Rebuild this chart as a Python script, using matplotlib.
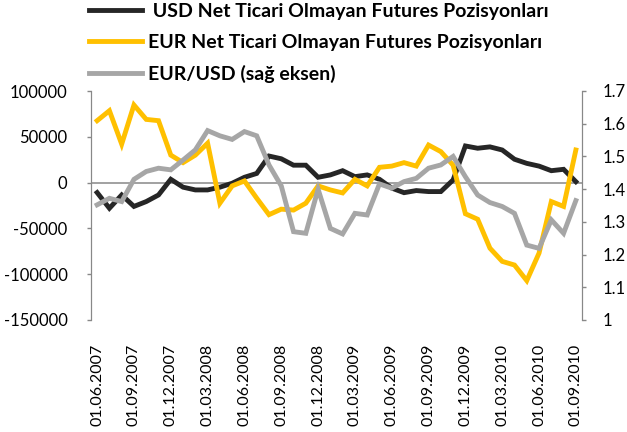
import matplotlib
matplotlib.use("Agg")
import matplotlib.pyplot as plt

plt.rcParams['font.family'] = ['Lato', 'DejaVu Sans']
plt.rcParams['axes.unicode_minus'] = False

# monthly categories 01.06.2007 .. 01.09.2010
dates = []
y, m = 2007, 6
while (y, m) <= (2010, 9):
    dates.append(f"01.{m:02d}.{y}")
    m += 1
    if m > 12:
        m = 1
        y += 1

usd = [-10900, -28000, -13500, -26000, -20700, -13500, 3600, -5000, -8000, -8000,
       -5000, -700, 5800, 10000, 29000, 26000, 19000, 19000, 5800, 8400,
       13000, 6500, 8400, 3600, -6000, -11000, -8700, -9800, -9800, 2900,
       40000, 37500, 39000, 35600, 25500, 21000, 18000, 13000, 14500, 1000]

eur = [67600, 78500, 42000, 84700, 69000, 67600, 30000, 21800, 30000, 43000,
       -22500, -3600, 1800, -17000, -35000, -29000, -30000, -22500, -3600, -8000,
       -11300, 3600, -3600, 16700, 18000, 21800, 18000, 41000, 33800, 19000,
       -34000, -40000, -71600, -86000, -90000, -107000, -77000, -20700, -26000, 35600]

eurusd = [1.352, 1.372, 1.362, 1.430, 1.454, 1.464, 1.459, 1.489, 1.520, 1.579,
          1.563, 1.552, 1.576, 1.563, 1.474, 1.410, 1.270, 1.265, 1.400, 1.280,
          1.263, 1.326, 1.321, 1.416, 1.403, 1.423, 1.433, 1.464, 1.474, 1.500,
          1.438, 1.382, 1.359, 1.347, 1.326, 1.229, 1.219, 1.306, 1.265, 1.365]

left_ticks = [100000, 50000, 0, -50000, -100000, -150000]
left_labels = ["100000", "50000", "0", "-50000", "-100000", "-150000"]
right_ticks = [1.0, 1.1, 1.2, 1.3, 1.4, 1.5, 1.6, 1.7]
right_labels = ["1", "1.1", "1.2", "1.3", "1.4", "1.5", "1.6", "1.7"]

labels = ["USD Net Ticari Olmayan Futures Pozisyonları",
          "EUR Net Ticari Olmayan Futures Pozisyonları",
          "EUR/USD (sağ eksen)"]

W, H = 627, 432
fig = plt.figure(figsize=(W / 100, H / 100), dpi=100)
ax = fig.add_axes([91 / W, 1 - 320 / H, (582 - 91) / W, (320 - 91) / H])
ax2 = ax.twinx()

x = list(range(len(dates)))
spine_c = '#888888'

ax.axhline(0, color=spine_c, lw=1.1, zorder=1)
l1, = ax.plot(x, usd, color='#262626', lw=3.5, solid_joinstyle='miter', zorder=3)
l2, = ax.plot(x, eur, color='#FFC000', lw=3.5, solid_joinstyle='miter', zorder=4)
l3, = ax2.plot(x, eurusd, color='#A6A6A6', lw=3.5, solid_joinstyle='miter')

ax.set_xlim(-0.5, len(dates) - 0.5)
ax.set_ylim(-150000, 100000)
ax2.set_ylim(1.0, 1.7)

ax.set_yticks(left_ticks)
ax.set_yticklabels(left_labels, fontsize=12)
ax2.set_yticks(right_ticks)
ax2.set_yticklabels(right_labels, fontsize=12)

ax.set_xticks(x[::3])
ax.set_xticklabels(dates[::3], rotation=90, fontsize=11.5)
ax.tick_params(axis='x', length=0, pad=17)
ax.tick_params(axis='y', direction='out', length=3, width=1, color=spine_c, pad=14)
ax2.tick_params(axis='y', direction='out', length=3, width=1, color=spine_c, pad=12)

for a in (ax, ax2):
    a.spines['top'].set_visible(False)
    a.spines['bottom'].set_visible(False)
    a.spines['left'].set_color(spine_c)
    a.spines['right'].set_color(spine_c)
    a.patch.set_visible(False)

fig.legend([l1, l2, l3], [" " + labels[0], labels[1], labels[2]],
           loc='upper left', bbox_to_anchor=(89 / W, 1 - 3 / H),
           frameon=False, borderpad=0, borderaxespad=0,
           handlelength=2.75, handletextpad=0.27, labelspacing=0.72,
           prop={'family': ['Lato', 'DejaVu Sans'], 'weight': 'bold', 'size': 14})

fig.savefig("out.png", dpi=100)
